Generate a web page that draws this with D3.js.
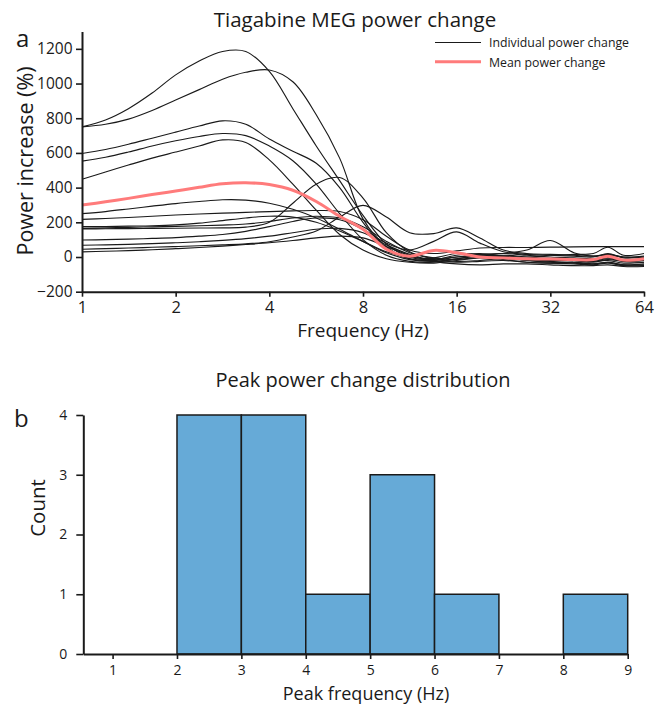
<!DOCTYPE html>
<html><head><meta charset="utf-8">
<script src="https://cdn.jsdelivr.net/npm/d3@7"></script>
<style>
body{margin:0;background:#fff}
svg text{font-family:'Open Sans',sans-serif;fill:#1a1a1a}
</style>
</head><body>
<svg id="chart" width="656" height="705"></svg>
<script>
// ---------- DATA (panel a) ----------
const freqs = [1, 1.19, 1.41, 1.68, 2, 2.38, 2.83, 3.36, 4, 4.76, 5.66, 6.73, 8, 9.51, 11.3, 13.5, 16, 19, 22.6, 26.9, 32, 38.1, 44, 49, 55, 64];
const subj01 = [750, 790, 855, 945, 1050, 1130, 1185, 1185, 1070, 855, 640, 440, 240, 75, 0, -15, 10, 20, 5, -10, -15, -10, -20, -5, -20, -15];
const subj02 = [750, 765, 795, 845, 905, 965, 1025, 1065, 1078, 1010, 820, 570, 220, 60, -10, -20, 0, 10, 20, 40, 95, 25, 5, 10, 0, -5];
const subj03 = [597, 620, 650, 685, 720, 755, 785, 765, 680, 610, 540, 400, 200, 50, -10, -5, 20, 15, 5, 0, 10, 15, 20, 56, 10, 20];
const subj04 = [553, 575, 605, 640, 670, 695, 712, 700, 640, 555, 420, 250, 100, 10, -25, -30, -10, 5, 0, -20, -25, -30, -25, -20, -35, -30];
const subj05 = [448, 490, 530, 570, 605, 640, 675, 660, 560, 420, 270, 130, 40, -10, -30, -35, -20, -5, -15, -30, -35, -30, -40, -30, -45, -45];
const subj06 = [250, 262, 277, 293, 308, 320, 330, 328, 310, 275, 225, 160, 90, 25, -15, -25, -10, 10, 0, -15, -20, -20, -30, -15, -25, -30];
const subj07 = [217, 222, 228, 235, 242, 248, 253, 257, 262, 266, 268, 262, 215, 120, 40, 20, 35, 52, 55, 55, 57, 58, 60, 60, 60, 60];
const subj08 = [165, 168, 171, 174, 177, 180, 184, 190, 205, 225, 235, 225, 175, 90, 25, -5, -15, 0, 10, 0, -10, -20, -25, -10, -25, -20];
const subj09 = [162, 163, 164, 165, 166, 167, 168, 172, 200, 310, 420, 458, 340, 140, 30, -10, -25, -20, -10, -20, -30, -35, -40, -30, -45, -40];
const subj10 = [45, 48, 52, 56, 60, 65, 70, 76, 88, 115, 150, 230, 298, 230, 140, 135, 168, 110, 40, 20, 15, 10, 5, 15, 0, 5];
const subj11 = [98, 100, 103, 107, 112, 120, 130, 148, 175, 205, 225, 215, 160, 80, 40, 90, 145, 80, 30, 15, 10, 5, 0, 20, -5, 0];
const subj12 = [68, 70, 73, 77, 82, 88, 96, 106, 120, 140, 160, 165, 140, 70, 15, -20, -30, -25, -20, -30, -35, -40, -45, -35, -50, -50];
const subj13 = [30, 33, 37, 42, 48, 55, 63, 72, 82, 95, 110, 120, 110, 60, 10, -25, -40, -45, -40, -40, -45, -50, -50, -45, -55, -55];
const subj14 = [175, 176, 178, 180, 185, 195, 210, 225, 235, 230, 200, 150, 90, 30, 0, -10, 0, 15, 20, 10, 0, -5, -10, 0, -15, -10];
const meanChange = [300, 318, 338, 360, 380, 402, 422, 428, 418, 385, 320, 235, 160, 45, 5, 38, 25, 0, -5, -10, -12, -15, -15, 5, -18, -10];
const individual = [subj01, subj02, subj03, subj04, subj05, subj06, subj07, subj08, subj09, subj10, subj11, subj12, subj13, subj14];
const freqTicks = [1, 2, 4, 8, 16, 32, 64];
const powerTicks = [-200, 0, 200, 400, 600, 800, 1000, 1200];

// ---------- DATA (panel b) ----------
const binStarts = [1, 2, 3, 4, 5, 6, 7, 8];
const binCounts = [0, 4, 4, 1, 3, 1, 0, 1];
const peakTicks = [1, 2, 3, 4, 5, 6, 7, 8, 9];
const countTicks = [0, 1, 2, 3, 4];

const svg = d3.select("#chart");
const INK = "#1a1a1a";
const RED = "#ff7b7b";

// ================= Panel a =================
const xA = d3.scaleLog().base(2).domain([1, 64]).range([82, 644]);
const yA = d3.scaleLinear().domain([-200, 1300]).range([291.7, 31.5]);

const gA = svg.append("g");
const line = d3.line()
  .x((d, i) => xA(freqs[i]))
  .y(d => yA(d))
  .curve(d3.curveCatmullRom.alpha(0.5));

gA.append("g").selectAll("path").data(individual).join("path")
  .attr("d", line).attr("fill", "none").attr("stroke", INK).attr("stroke-width", 1.15);
gA.append("path").datum(meanChange).attr("d", line)
  .attr("fill", "none").attr("stroke", RED).attr("stroke-width", 3);

const axYA = gA.append("g").attr("transform", "translate(82,0)")
  .call(d3.axisLeft(yA).tickValues(powerTicks).tickFormat(d3.format("d")).tickSize(6).tickSizeOuter(0).tickPadding(3.5));
const axXA = gA.append("g").attr("transform", "translate(0,291.7)")
  .call(d3.axisBottom(xA).tickValues(freqTicks).tickFormat(d3.format("d")).tickSize(5).tickSizeOuter(0).tickPadding(5));
[axYA, axXA].forEach(a => {
  a.select(".domain").attr("stroke", INK).attr("stroke-width", 2);
  a.selectAll(".tick line").attr("stroke", INK).attr("stroke-width", 1.6);
  a.selectAll("text").attr("fill", INK).style("font-family", "'Open Sans',sans-serif");
});
axYA.selectAll("text").style("font-size", "15.5px");
axXA.selectAll("text").style("font-size", "16.5px");

gA.append("text").attr("x", 355).attr("y", 27).attr("text-anchor", "middle")
  .style("font-size", "20.5px").text("Tiagabine MEG power change");
gA.append("text").attr("x", 363).attr("y", 337).attr("text-anchor", "middle")
  .style("font-size", "19px").text("Frequency (Hz)");
gA.append("text").attr("transform", "translate(33,161) rotate(-90)").attr("text-anchor", "middle")
  .style("font-size", "21.5px").text("Power increase (%)");
gA.append("text").attr("x", 16).attr("y", 47).style("font-size", "24px").text("a");

// legend
const leg = gA.append("g");
leg.append("line").attr("x1", 435).attr("x2", 481).attr("y1", 42.5).attr("y2", 42.5)
  .attr("stroke", INK).attr("stroke-width", 1.2);
leg.append("text").attr("x", 489).attr("y", 47.3).style("font-size", "12.3px").text("Individual power change");
leg.append("line").attr("x1", 435).attr("x2", 481).attr("y1", 61.8).attr("y2", 61.8)
  .attr("stroke", RED).attr("stroke-width", 3);
leg.append("text").attr("x", 489).attr("y", 66.7).style("font-size", "12.3px").text("Mean power change");

// ================= Panel b =================
const xB = d3.scaleLinear().domain([0.545, 9]).range([83.3, 627.7]);
const yB = d3.scaleLinear().domain([0, 4]).range([654, 415]);
const gB = svg.append("g");

const bins = binStarts.map((s, i) => ({ x0: s, x1: s + 1, n: binCounts[i] })).filter(d => d.n > 0);
gB.append("g").selectAll("rect").data(bins).join("rect")
  .attr("x", d => xB(d.x0)).attr("width", d => xB(d.x1) - xB(d.x0))
  .attr("y", d => yB(d.n)).attr("height", d => yB(0) - yB(d.n))
  .attr("fill", "#66aad7").attr("stroke", INK).attr("stroke-width", 1.5);

const axYB = gB.append("g").attr("transform", "translate(83.3,0)")
  .call(d3.axisLeft(yB).tickValues(countTicks).tickFormat(d3.format("d")).tickSize(7).tickSizeOuter(0).tickPadding(9));
const axXB = gB.append("g").attr("transform", "translate(0,654)")
  .call(d3.axisBottom(xB).tickValues(peakTicks).tickFormat(d3.format("d")).tickSize(5).tickSizeOuter(0).tickPadding(6));
[axYB, axXB].forEach(a => {
  a.select(".domain").attr("stroke", INK).attr("stroke-width", 2);
  a.selectAll(".tick line").attr("stroke", INK).attr("stroke-width", 1.6);
  a.selectAll("text").attr("fill", INK).style("font-family", "'Open Sans',sans-serif").style("font-size", "14px");
});

gB.append("text").attr("x", 363).attr("y", 387).attr("text-anchor", "middle")
  .style("font-size", "20px").text("Peak power change distribution");
gB.append("text").attr("x", 366).attr("y", 699.5).attr("text-anchor", "middle")
  .style("font-size", "18px").text("Peak frequency (Hz)");
gB.append("text").attr("transform", "translate(45,508) rotate(-90)").attr("text-anchor", "middle")
  .style("font-size", "20.5px").text("Count");
gB.append("text").attr("x", 14).attr("y", 427).style("font-size", "24px").text("b");
</script>
</body></html>
